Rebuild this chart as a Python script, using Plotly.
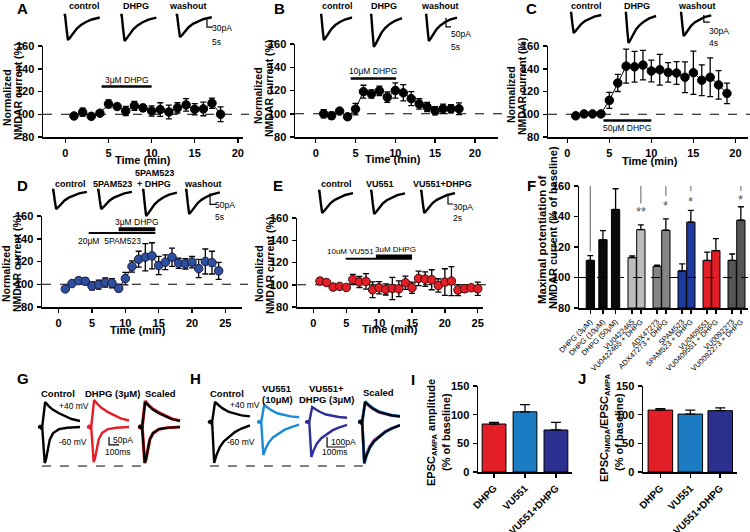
import plotly.graph_objects as go

W, H = 750, 532
FONT = "Arial, Liberation Sans, sans-serif"

# ---------- time courses (min, % of baseline) ----------
A_T = list(range(1, 19))
A_Y = [98.5, 101.8, 98.2, 100.9, 109.1, 106.8, 102.9, 107.4, 105.6, 102.9,
       104.1, 102.0, 105.6, 108.2, 104.4, 104.7, 109.7, 100.0]
A_E = [1.5, 3.5, 1.5, 2, 3.5, 2.5, 4, 4, 3, 4.5, 6, 6, 4.5, 5.5, 5, 6, 4.5, 6.5]
A_DRUG = [4.2, 10.0]

B_T = list(range(1, 19))
B_Y = [100, 98.3, 102.3, 97.4, 104, 119, 117, 119.7, 114.2, 120,
       118, 113, 108.4, 105.8, 102.6, 104.3, 104.3, 104.3]
B_E = [3.5, 3, 1.5, 2, 5, 5.5, 3.5, 4, 4.5, 6.5, 7, 6, 4.5, 4, 3.5, 4, 3.5, 5]
B_DRUG = [4.4, 10.1]

C_T = list(range(1, 20))
C_Y = [98.6, 100.3, 100.3, 100.3, 112.2, 127.5, 142.3, 141.7, 143.2, 138,
       139.1, 136.8, 136.2, 132.5, 136.5, 129.9, 132.5, 125.8, 118.3]
C_E = [1, 1, 1, 1, 7, 7.5, 15, 13.5, 13, 9.5, 13.5, 8.5, 10, 13.5, 19, 13.5, 17, 12.5, 9]
C_DRUG = [4.3, 10.0]

D_T = list(range(1, 25))
D_Y = [95.9, 100.6, 103.2, 102.6, 98.5, 99.7, 101.5, 100.9, 96.5, 105,
       115.6, 122, 123.8, 125, 116.5, 119.4, 123.8, 118.5, 117.9, 119.4,
       113.8, 120, 119, 111.8]
D_E = [2, 2, 2, 3, 3.5, 4, 4, 4, 3, 5.5, 5, 7, 12, 11.5, 8, 6.5, 8, 4.5, 4.5, 5, 8, 11, 10, 7.5]
D_PAM = [4.5, 14.5]
D_DHPG = [9.0, 14.5]

E_T = list(range(1, 26))
E_Y = [103.3, 102, 97.9, 98.5, 97.6, 104.8, 102.4, 103, 95.5, 97.3,
       95.8, 96.7, 96.4, 101.8, 97.3, 105.7, 105.1, 104.5, 99.4, 102.4,
       103.3, 95.2, 96.4, 97.3, 96.4]
E_E = [3, 2, 3, 2, 2, 4.5, 5, 7, 7, 5.5, 5, 10, 7, 6, 5, 6.5, 6.5, 9, 6, 12, 13, 5, 3, 2, 6]
E_VU = [4.9, 15.0]
E_DHPG = [9.5, 15.0]

# ---------- panel F ----------
F_LABELS = ["DHPG (3μM)", "DHPG (10μM)", "DHPG (50μM)", "VU0422465", "VU0422465 + DHPG",
            "ADX47273", "ADX47273 + DHPG", "5PAM523", "5PAM523 + DHPG",
            "VU0409551", "VU0409551 + DHPG", "VU0092273", "VU0092273 + DHPG"]
F_VAL = [111.2, 124.8, 144.6, 113.0, 131.4, 107.3, 131.0, 104.4, 136.3, 111.2, 117.6, 111.2, 137.6]
F_ERR = [3.1, 6.0, 13.6, 1.1, 3.1, 0.8, 7.5, 4.6, 7.7, 5.5, 7.9, 4.2, 8.8]
F_COL = ["#0a0a0a", "#0a0a0a", "#0a0a0a", "#bdbdbd", "#bdbdbd", "#858585", "#858585",
         "#1f3a9e", "#1f3a9e", "#e41e26", "#e41e26", "#555555", "#555555"]
F_SIG_TOP = 162.6
F_SIG_IDX = [0, 4, 6, 8, 12]
F_SIG_LOW = [117.0, 148.6, 153.4, 156.7, 156.7]
F_STARS = ["", "**", "*", "*", "*"]
F_STAR_Y = [0, 143.5, 147.3, 150.0, 151.2]

# ---------- panels I, J ----------
IJ_CATS = ["DHPG", "VU551", "VU551+DHPG"]
IJ_COL = ["#e41e26", "#1b7cc4", "#2b2f8e"]
I_VAL = [83.7, 105.0, 73.3]
I_ERR = [3.0, 12.4, 13.4]
J_VAL = [108.0, 101.0, 107.0]
J_ERR = [2.5, 7.0, 5.0]

# ---------- example currents (shape = fraction of sweep, fraction of peak) ----------
NMDA_T = [0, 0.04, 0.08, 0.12, 0.18, 0.26, 0.36, 0.48, 0.62, 0.78, 1.0]
NMDA_V = [0, 0.0, -0.55, -1.0, -0.9, -0.72, -0.55, -0.4, -0.28, -0.18, -0.1]
A_AMP = [80, 83, 71]
B_AMP = [138, 176, 143]
C_AMP = [86, 129, 99]
D_AMP = [86, 86, 117, 108]
E_AMP = [66, 69, 66]

G_POS_T = [0, 0.05, 0.06, 0.07, 0.1, 0.12, 0.17, 0.25, 0.35, 0.5, 0.65, 0.8, 1.0]
G_POS_V = [0, 0, 0.08, -0.08, 0, 0.3, 1.0, 0.85, 0.7, 0.55, 0.42, 0.32, 0.24]
G_NEG_T = [0, 0.05, 0.06, 0.07, 0.1, 0.13, 0.16, 0.19, 0.23, 0.28, 0.36, 0.5, 0.7, 1.0]
G_NEG_V = [0, 0, 0.05, -0.05, 0, -0.6, -1.0, -0.9, -0.6, -0.35, -0.17, -0.06, -0.02, 0]
H_POS_T = [0, 0.05, 0.06, 0.07, 0.1, 0.12, 0.17, 0.25, 0.35, 0.5, 0.65, 0.8, 1.0]
H_POS_V = [0, 0, 0.08, -0.08, 0, 0.3, 1.0, 0.85, 0.68, 0.5, 0.4, 0.33, 0.28]
H_NEG_T = [0, 0.05, 0.06, 0.07, 0.1, 0.12, 0.15, 0.2, 0.28, 0.38, 0.5, 0.65, 0.8, 1.0]
H_NEG_V = [0, 0, 0.05, -0.05, 0, -0.4, -1.0, -0.82, -0.62, -0.47, -0.36, -0.24, -0.16, -0.08]
# peak amplitudes (pA): (+40 mV outward, -60 mV inward)
G_AMP = {"Control": (156, 225), "DHPG": (169, 219)}
H_AMP = {"Control": (200, 410), "VU551": (170, 330), "VU551+DHPG": (150, 350)}

fig = go.Figure()
layout = {}
annotations = []
shapes = []


def ax_names(n):
    return ("x", "y") if n == 1 else (f"x{n}", f"y{n}")


def ax_keys(n):
    return ("xaxis", "yaxis") if n == 1 else (f"xaxis{n}", f"yaxis{n}")


def tfont(size=11, bold=True, family=FONT):
    return dict(family=family, size=size, color="black", weight="bold" if bold else "normal")


def main_axes(n, x0, x1, y0, y1, xr, yr, xt, yt, xtext=None, xangle=None, xfont=None):
    kx, ky = ax_keys(n)
    common = dict(showline=True, linecolor="black", linewidth=1.5, ticks="outside",
                  ticklen=4, tickwidth=1.5, tickcolor="black", showgrid=False,
                  zeroline=False, automargin=False, tickfont=tfont(), ticklabelstandoff=1)
    layout[kx] = dict(common, domain=[x0 / W, x1 / W], anchor=ax_names(n)[1], range=xr,
                      tickvals=xt, ticktext=xtext)
    if xangle is not None:
        layout[kx]["tickangle"] = xangle
    if xfont is not None:
        layout[kx]["tickfont"] = xfont
    layout[ky] = dict(common, domain=[1 - y1 / H, 1 - y0 / H], anchor=ax_names(n)[0],
                      range=yr, tickvals=yt)


def inset_axes(n, x0, x1, y0, y1, xr, yr):
    kx, ky = ax_keys(n)
    hidden = dict(visible=False, showgrid=False, zeroline=False, fixedrange=True, automargin=False)
    layout[kx] = dict(hidden, domain=[x0 / W, x1 / W], anchor=ax_names(n)[1], range=xr)
    layout[ky] = dict(hidden, domain=[1 - y1 / H, 1 - y0 / H], anchor=ax_names(n)[0], range=yr)


def ann(x, y, text, size=10, bold=True, angle=0, xanchor="center"):
    annotations.append(dict(x=x / W, y=1 - y / H, xref="paper", yref="paper", text=text,
                            showarrow=False, textangle=angle, xanchor=xanchor,
                            yanchor="middle", font=tfont(size, bold)))


def data_ann(n, x, y, text, size=8.5):
    xa, ya = ax_names(n)
    annotations.append(dict(x=x, y=y, xref=xa, yref=ya, text=text, showarrow=False,
                            font=tfont(size, False)))


def line(n, xs, ys, color="black", width=1.5, dash=None):
    xa, ya = ax_names(n)
    fig.add_trace(go.Scatter(x=xs, y=ys, xaxis=xa, yaxis=ya, mode="lines",
                             line=dict(color=color, width=width, dash=dash),
                             cliponaxis=False, hoverinfo="skip", showlegend=False))


def time_course(n, t, y, e, fill, edge):
    xa, ya = ax_names(n)
    fig.add_trace(go.Scatter(
        x=t, y=y, xaxis=xa, yaxis=ya, mode="lines+markers",
        line=dict(color="black", width=1),
        marker=dict(size=8.5, color=fill, line=dict(color=edge, width=1)),
        error_y=dict(type="data", array=e, color="black", thickness=1.3, width=3),
        showlegend=False))
    shapes.append(dict(type="line", xref=f"{xa} domain", yref=ya, x0=0, x1=1.03, y0=100, y1=100,
                       line=dict(color="black", width=1.2, dash="dash"), layer="below"))


# ---------- A-E time courses ----------
main_axes(1, 43, 243, 46, 137, [-2.6, 20.6], [80, 160], [0, 5, 10, 15, 20], [80, 100, 120, 140, 160])
main_axes(2, 295, 498, 44, 137, [-2.6, 22.9], [80, 160], [0, 5, 10, 15, 20], [80, 100, 120, 140, 160])
main_axes(3, 548, 748, 46, 137, [-2.3, 21.5], [80, 160], [0, 5, 10, 15, 20], [80, 100, 120, 140, 160])
main_axes(4, 42, 242, 216, 307, [-2.5, 27.5], [80, 160], [0, 5, 10, 15, 20, 25], [80, 100, 120, 140, 160])
main_axes(5, 297, 483, 218, 307, [-2.5, 25.8], [80, 160], [0, 5, 10, 15, 20, 25], [80, 100, 120, 140, 160])

time_course(1, A_T, A_Y, A_E, "black", "black")
time_course(2, B_T, B_Y, B_E, "black", "black")
time_course(3, C_T, C_Y, C_E, "black", "black")
time_course(4, D_T, D_Y, D_E, "#2e4f9e", "#1a1a40")
time_course(5, E_T, E_Y, E_E, "#e41e26", "#3a0a0a")

line(1, A_DRUG, [124.4, 124.4], width=2.5)
data_ann(1, sum(A_DRUG) / 2, 130, "3μM DHPG")
line(2, B_DRUG, [130.4, 130.4], width=2.5)
data_ann(2, sum(B_DRUG) / 2, 137, "10μM DHPG")
line(3, C_DRUG, [94.5, 94.5], width=2.5)
data_ann(3, sum(C_DRUG) / 2, 88, "50μM DHPG")
line(4, D_PAM, [145, 145], width=2)
line(4, D_DHPG, [148.3, 148.3], width=4)
data_ann(4, 11.8, 154.4, "3μM DHPG")
data_ann(4, 7.6, 138, "20μM  5PAM523")
line(5, E_VU, [123.3, 123.3], width=2)
line(5, E_DHPG, [125.5, 125.5], width=4)
data_ann(5, 5.7, 129.6, "10uM VU551", 8)
data_ann(5, 12.5, 131.6, "3uM DHPG", 8)

for cx, (l1y, l2y) in [((7, 18), (98, 92)), ((258, 269), (96, 89)), ((511, 522), (95, 87)),
                       ((6, 17), (274, 264)), ((259, 270), (274, 266))]:
    ann(cx[0], l1y, "Normalized", 10.5, angle=-90)
    ann(cx[1], l2y, "NMDAR current (%)", 10.5, angle=-90)
for x, y in [(143, 160), (393, 159), (650, 161), (138, 330), (390, 329)]:
    ann(x, y, "Time (min)", 11)

# ---------- F ----------
f_pos = [0, 1.45, 2.9]
for k in range(5):
    f_pos += [4.8 + 2.87 * k, 5.8 + 2.87 * k]
main_axes(6, 579, 748, 186, 308, [-1.3, 18.1], [80, 160], f_pos, [80, 100, 120, 140, 160],
          xtext=F_LABELS, xangle=-45, xfont=tfont(7.5, False))
fig.add_trace(go.Bar(
    x=f_pos, y=[v - 80 for v in F_VAL], base=80, xaxis="x6", yaxis="y6", width=0.95,
    marker=dict(color=F_COL, line=dict(color="black", width=1)),
    error_y=dict(type="data", array=F_ERR, arrayminus=[0] * len(F_ERR), symmetric=False,
                 color="black", thickness=1.3, width=3),
    showlegend=False))
shapes.append(dict(type="line", xref="x6 domain", yref="y6", x0=0, x1=1, y0=100, y1=100,
                   line=dict(color="black", width=1.2, dash="dash")))
sig_x = [f_pos[i] for i in F_SIG_IDX]
line(6, [sig_x[0], sig_x[-1]], [F_SIG_TOP, F_SIG_TOP], color="#7a7a7a", width=1.2)
for sx, low, star, sy in zip(sig_x, F_SIG_LOW, F_STARS, F_STAR_Y):
    line(6, [sx, sx], [F_SIG_TOP, low], color="#7a7a7a", width=1.2)
    if star:
        data_ann(6, sx, sy, star, 13)
        annotations[-1]["font"]["color"] = "#555"
ann(542, 240, "Maximal potentiation of", 11.5, angle=-90)
ann(553, 228, "NMDAR current (% of baseline)", 11, angle=-90)

# ---------- I, J ----------
main_axes(7, 478, 572, 386, 472, [-0.52, 2.52], [0, 150], [0, 1, 2], [0, 50, 100, 150],
          xtext=IJ_CATS, xangle=-45, xfont=tfont(10))
main_axes(8, 643, 737, 386, 472, [-0.58, 2.56], [0, 150], [0, 1, 2], [0, 50, 100, 150],
          xtext=IJ_CATS, xangle=-45, xfont=tfont(10))
for n, vals, errs, wd in [(7, I_VAL, I_ERR, 0.77), (8, J_VAL, J_ERR, 0.82)]:
    xa, ya = ax_names(n)
    fig.add_trace(go.Bar(
        x=[0, 1, 2], y=vals, xaxis=xa, yaxis=ya, width=wd,
        marker=dict(color=IJ_COL, line=dict(color="black", width=1)),
        error_y=dict(type="data", array=errs, arrayminus=[0, 0, 0], symmetric=False,
                     color="black", thickness=1.3, width=5),
        showlegend=False))
ann(432, 432, "EPSC<sub>AMPA</sub> amplitude", 11, angle=-90)
ann(446, 432, "(% of baseline)", 11, angle=-90)
ann(605, 428, "EPSC<sub>NMDA</sub>/EPSC<sub>AMPA</sub>", 11, angle=-90)
ann(619, 432, "(% of baseline)", 11, angle=-90)


# ---------- inset currents A-E ----------
def nmda_panel(n, x0, x1, y0, y1, base, pa_px, s_px, offsets, dur, amps, bar_x, bar_pa, bar_s):
    xr = [0, (x1 - x0) * s_px]
    yr = [-(y1 - base) * pa_px, (base - y0) * pa_px]
    inset_axes(n, x0, x1, y0, y1, xr, yr)
    for off, amp in zip(offsets, amps):
        line(n, [off + t * dur for t in NMDA_T], [amp * v for v in NMDA_V], width=2.4)
    top = -0.3 * bar_pa
    line(n, [bar_x, bar_x, bar_x + bar_s], [top, top - bar_pa, top - bar_pa], width=1.2)


nmda_panel(9, 60, 225, 8, 48, 15, 3.2, 0.83, [3, 50, 96], 30, A_AMP, 122, 30, 5)
nmda_panel(10, 315, 470, 8, 50, 15, 5.5, 1.0, [5, 55, 110], 32, B_AMP, 131, 50, 5)
nmda_panel(11, 565, 725, 8, 48, 13, 4.3, 0.67, [3.3, 40, 77], 21, C_AMP, 93, 30, 4)
nmda_panel(12, 48, 235, 186, 222, 190, 4.5, 0.83, [3.3, 40.7, 78, 113.7], 29, D_AMP, 134.5, 50, 5)
nmda_panel(13, 312, 470, 186, 222, 191, 3.0, 0.4, [2.4, 23.2, 43.2], 14, E_AMP, 54.4, 30, 2)

for x, t in [(84, "control"), (136, "DHPG"), (188, "washout"),
             (337, "control"), (384, "DHPG"), (440, "washout"),
             (586, "control"), (637, "DHPG"), (697, "washout")]:
    ann(x, 6, t, 9)
for x, t in [(70, "control"), (112, "5PAM523"), (203, "washout"),
             (336, "control"), (380, "VU551"), (442, "VU551+DHPG")]:
    ann(x, 184, t, 9)
ann(154, 173, "5PAM523", 9)
ann(154, 184, "+ DHPG", 9)
for x, y, t in [(210, 28, "30pA"), (210, 42, "5s"), (449, 34, "50pA"), (449, 47, "5s"),
                (707, 31, "30pA"), (707, 43, "4s"), (213, 205, "50pA"), (213, 217, "5s"),
                (451, 207, "30pA"), (451, 218, "2s")]:
    ann(x, y, t, 8.5, bold=False, xanchor="left")


# ---------- inset currents G, H ----------
def epsc(n, off, dur, amp, color, width, pos_t, pos_v, neg_t, neg_v, scale=(1.0, 1.0)):
    line(n, [off + t * dur for t in pos_t], [amp[0] * scale[0] * v for v in pos_v],
         color=color, width=width)
    line(n, [off + t * dur for t in neg_t], [amp[1] * scale[1] * v for v in neg_v],
         color=color, width=width)


G_SHAPE = (G_POS_T, G_POS_V, G_NEG_T, G_NEG_V)
H_SHAPE = (H_POS_T, H_POS_V, H_NEG_T, H_NEG_V)

inset_axes(14, 36, 190, 395, 470, [0, 1540], [-(470 - 427) * 6.25, (427 - 395) * 6.25])
epsc(14, 20, 420, G_AMP["Control"], "black", 2.4, *G_SHAPE)
epsc(14, 510, 420, G_AMP["DHPG"], "#e41e26", 2.4, *G_SHAPE)
epsc(14, 1020, 420, G_AMP["Control"], "#e41e26", 3.2, *G_SHAPE, scale=(1.04, 1.0))
epsc(14, 1020, 420, G_AMP["Control"], "black", 2.2, *G_SHAPE)
line(14, [60, 1140], [-244, -244], width=1, dash="dash")
line(14, [730, 730, 830], [-62, -112, -112], width=1.2)

inset_axes(15, 205, 400, 395, 470, [0, 1072], [-(470 - 422) * 10, (422 - 395) * 10])
epsc(15, 16, 231, H_AMP["Control"], "black", 2.4, *H_SHAPE)
epsc(15, 286, 231, H_AMP["VU551"], "#1b8bd6", 2.4, *H_SHAPE)
epsc(15, 550, 231, H_AMP["VU551+DHPG"], "#2f2f99", 2.4, *H_SHAPE)
epsc(15, 841, 231, H_AMP["Control"], "#a050b0", 2.8, *H_SHAPE, scale=(0.96, 0.95))
epsc(15, 841, 231, H_AMP["Control"], "#1b8bd6", 2.8, *H_SHAPE, scale=(1.03, 1.02))
epsc(15, 841, 231, H_AMP["Control"], "black", 2.2, *H_SHAPE)
line(15, [27, 918], [-440, -440], width=1, dash="dash")
line(15, [671, 671, 771], [-150, -250, -250], width=1.2)

ann(58, 393, "Control", 9.5)
ann(112, 393, "DHPG (3μM)", 9.5)
ann(160, 393, "Scaled", 9.5)
ann(57, 406, "+40 mV", 8.5, bold=False, xanchor="left")
ann(57, 442, "-60 mV", 8.5, bold=False, xanchor="left")
ann(111, 440, "50pA", 8.5, bold=False, xanchor="left")
ann(118, 452, "100ms", 8.5, bold=False)
ann(227, 393, "Control", 9.5)
ann(277, 388, "VU551", 9.5)
ann(277, 399, "(10μM)", 9.5)
ann(326, 388, "VU551+", 9.5)
ann(326, 399, "DHPG (3μM)", 9.5)
ann(378, 392, "Scaled", 9.5)
ann(228, 405, "+40 mV", 8.5, bold=False, xanchor="left")
ann(225, 442, "-60 mV", 8.5, bold=False, xanchor="left")
ann(329, 442, "100pA", 8.5, bold=False, xanchor="left")
ann(335, 452, "100ms", 8.5, bold=False)

# ---------- panel letters ----------
for x, y, t in [(22, 8, "A"), (279, 8, "B"), (531, 8, "C"), (22, 185, "D"), (278, 185, "E"),
                (531, 185, "F"), (23, 378, "G"), (195, 378, "H"), (413, 379, "I"), (582, 378, "J")]:
    ann(x, y, t, 15)

fig.update_layout(
    **layout,
    template="none",
    width=W, height=H,
    margin=dict(l=0, r=0, t=0, b=0, autoexpand=False),
    paper_bgcolor="white", plot_bgcolor="white",
    showlegend=False, bargap=0, hovermode=False,
    annotations=annotations, shapes=shapes,
    font=dict(family=FONT, color="black"),
)
# page body has a default 8px margin; drop it so the figure sits at the window corner
fig.write_html("out.html", config={"displayModeBar": False, "staticPlot": True},
               post_script="document.body.style.margin='0px';")
